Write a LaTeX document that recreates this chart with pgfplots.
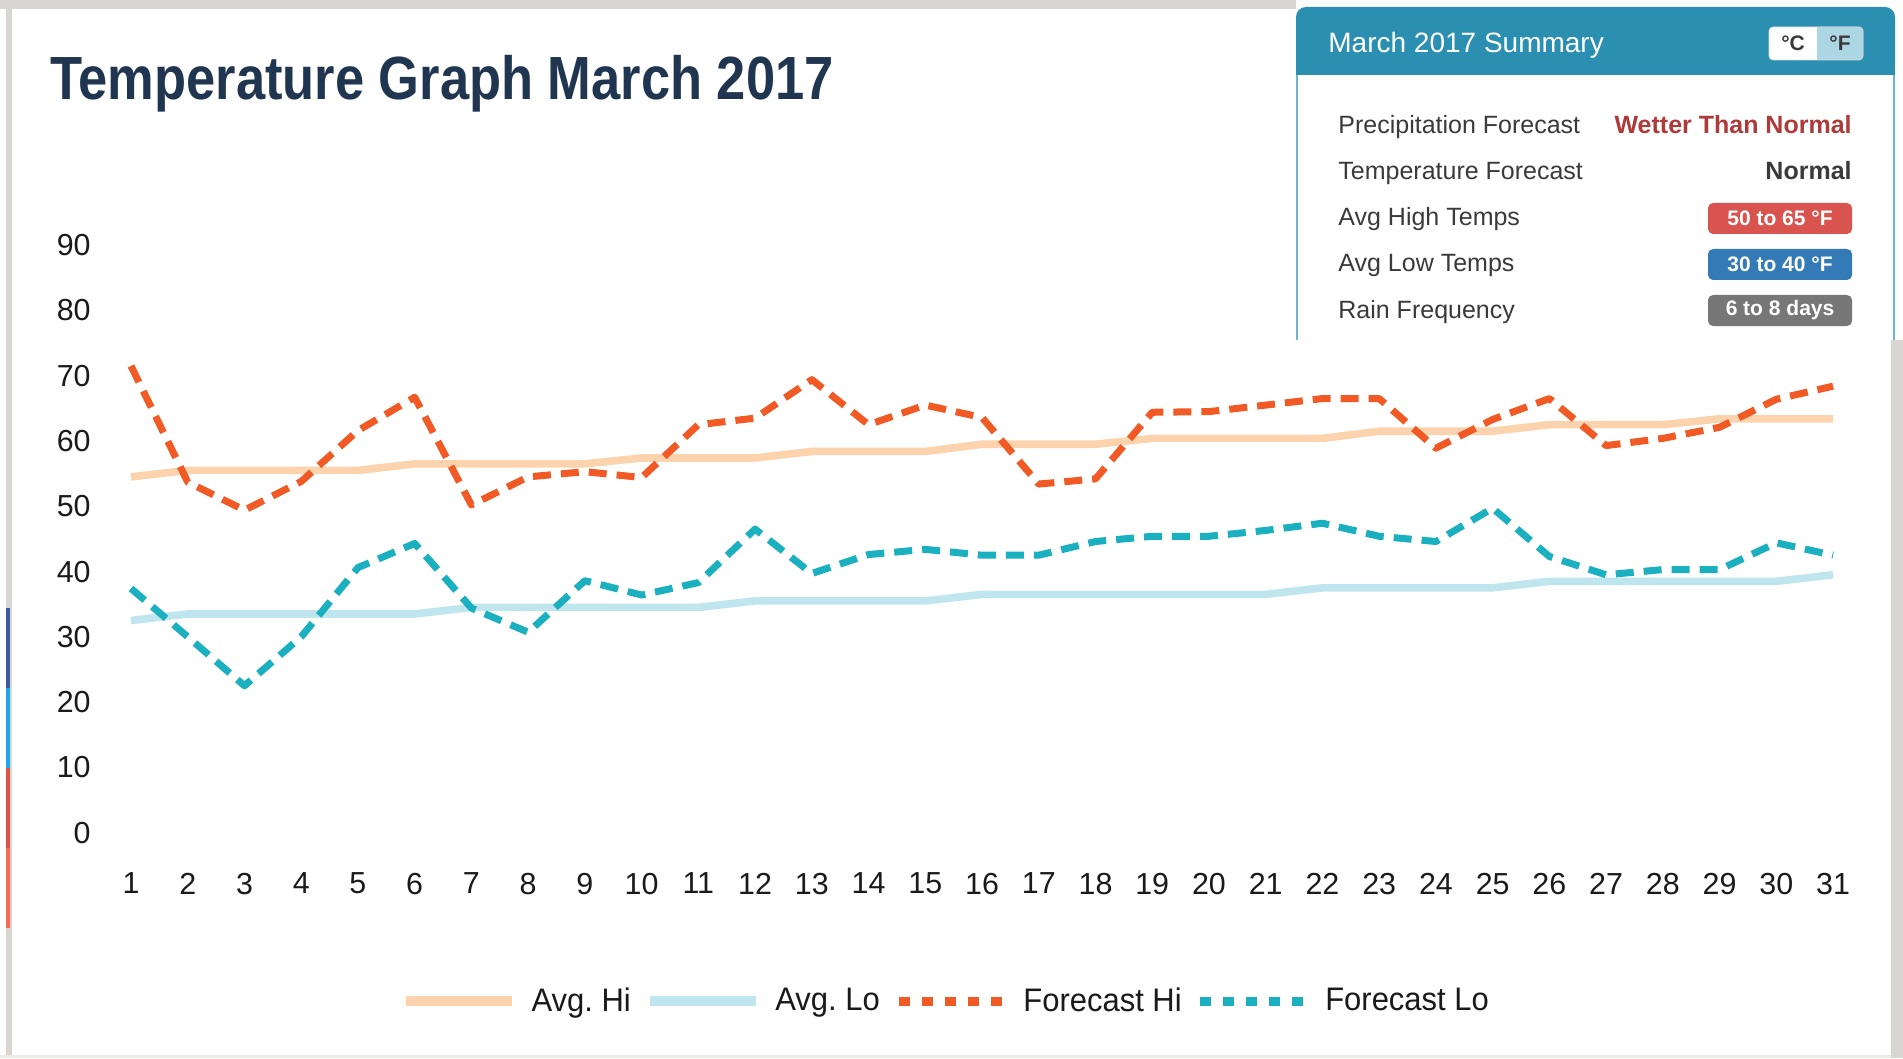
\documentclass[border=0pt]{standalone}
\usepackage{fontspec}
\setmainfont{Liberation Sans}
\newfontfamily\titlefont{Liberation Sans}[FakeStretch=0.86]
\newfontfamily\legfont{Liberation Sans}[FakeStretch=0.95]
\usepackage{pgfplots}
\pgfplotsset{compat=1.18}
\usepackage{pgfplotstable}
\frenchspacing

\definecolor{avghi}{HTML}{FDD3AE}
\definecolor{avglo}{HTML}{BFE6EF}
\definecolor{fchi}{HTML}{F15A24}
\definecolor{fclo}{HTML}{1AB0BF}
\definecolor{framegray}{HTML}{D8D5D3}
\definecolor{titlecol}{HTML}{1F3550}
\definecolor{headteal}{HTML}{2A8FB0}
\definecolor{panelborder}{HTML}{6DB6CF}
\definecolor{togglelb}{HTML}{ADD6E4}
\definecolor{rowtext}{HTML}{3A3A3A}
\definecolor{wetred}{HTML}{AE3A3A}
\definecolor{badgered}{HTML}{D9534F}
\definecolor{badgeblue}{HTML}{337AB7}
\definecolor{badgegray}{HTML}{777777}
\definecolor{stripnavy}{HTML}{3D5A9E}
\definecolor{stripblue}{HTML}{1EA5E8}
\definecolor{stripred}{HTML}{D9534A}
\definecolor{stripsalmon}{HTML}{F96A55}
\definecolor{tickcol}{HTML}{1A1A1A}

\pgfplotstableread{
day ahi  alo  fhi  flo
1   54.5 32.5 71.5 37.4
2   55.5 33.5 53.7 30.0
3   55.5 33.5 49.4 22.5
4   55.5 33.5 53.8 30.0
5   55.5 33.5 61.6 40.6
6   56.5 33.5 66.7 44.3
7   56.5 34.5 50.2 34.4
8   56.5 34.5 54.5 30.7
9   56.5 34.5 55.3 38.6
10  57.4 34.5 54.4 36.4
11  57.4 34.5 62.5 38.3
12  57.4 35.5 63.5 46.5
13  58.4 35.5 69.4 39.7
14  58.4 35.5 62.5 42.6
15  58.4 35.5 65.5 43.4
16  59.5 36.5 63.6 42.5
17  59.5 36.5 53.4 42.5
18  59.5 36.5 54.2 44.6
19  60.4 36.5 64.4 45.4
20  60.4 36.5 64.5 45.4
21  60.4 36.5 65.5 46.3
22  60.4 37.5 66.5 47.4
23  61.5 37.5 66.5 45.4
24  61.5 37.5 58.9 44.6
25  61.5 37.5 63.3 49.7
26  62.5 38.5 66.5 42.3
27  62.5 38.5 59.3 39.5
28  62.5 38.5 60.4 40.3
29  63.4 38.5 62.1 40.3
30  63.4 38.5 66.4 44.4
31  63.4 39.5 68.4 42.5
}\tempdata

\begin{document}
\begin{tikzpicture}[x=0.5bp,y=0.5bp]
\path[use as bounding box] (0,0) rectangle (1903,1058);
\fill[white] (0,0) rectangle (1903,1058);
% frame
\fill[framegray] (0,1049) rectangle (1296,1058);
\fill[framegray] (6,0) rectangle (12,1049);
\fill[framegray] (1891,0) rectangle (1903,718);
\fill[framegray!45] (0,0) rectangle (1891,3);
% colour strip
\fill[stripnavy] (6,370) rectangle (10,450);
\fill[stripblue] (6,290) rectangle (10,370);
\fill[stripred] (6,210) rectangle (10,290);
\fill[stripsalmon] (6,130) rectangle (10,210);

% title
\node[anchor=base west, inner sep=0pt, text=titlecol,
      font=\titlefont\bfseries\fontsize{30.5bp}{34bp}\selectfont] at (50,958.5)
      {Temperature Graph March 2017};

\begin{axis}[
  at={(65.5bp,112.7bp)}, anchor=south west,
  scale only axis, width=851bp, height=293.7bp,
  xmin=1, xmax=31, ymin=0, ymax=90,
  enlargelimits=false, clip=false,
  axis line style={draw=none}, tick style={draw=none},
  major tick length=0pt,
  xtick={1,...,31}, ytick={0,10,...,90},
  /pgf/number format/assume math mode=true,
  every tick label/.append style={text=tickcol, font=\fontsize{15.2bp}{18bp}\selectfont},
  yticklabel style={anchor=east, inner sep=0pt, xshift=-20bp},
  xticklabel style={anchor=north, inner sep=0pt, yshift=-20bp},
  legend columns=4,
  legend style={at={(axis description cs:0.4794,-0.287)}, anchor=center,
     draw=none, fill=none, text=tickcol,
     font=\legfont\fontsize{16.3bp}{19bp}\selectfont,
     /tikz/every odd column/.append style={column sep=5.2bp},
     /tikz/every even column/.append style={column sep=5.1bp}},
  legend image code/.code={\draw[#1] (0bp,0bp) -- (53bp,0bp);},
  line join=round,
]
\addplot[avghi, line width=3.8bp, legend image post style={line width=5bp}]
  table[x=day, y=ahi] {\tempdata};
\addlegendentry{Avg. Hi}
\addplot[avglo, line width=3.8bp, legend image post style={line width=5bp}]
  table[x=day, y=alo] {\tempdata};
\addlegendentry{Avg. Lo}
\addplot[fchi, line width=3.5bp, dash pattern=on 9bp off 5bp,
  legend image post style={line width=4.5bp, dash pattern=on 5.5bp off 6bp}]
  table[x=day, y=fhi] {\tempdata};
\addlegendentry{Forecast Hi}
\addplot[fclo, line width=3.5bp, dash pattern=on 9bp off 5bp,
  legend image post style={line width=4.5bp, dash pattern=on 5.5bp off 6bp}]
  table[x=day, y=flo] {\tempdata};
\addlegendentry{Forecast Lo}
\end{axis}

% summary panel
\fill[white] (1296,718) rectangle (1895,1051);
\fill[headteal, rounded corners=5bp] (1296,983) rectangle (1895,1051);
\fill[headteal] (1296,983) rectangle (1895,1015);
\draw[panelborder, line width=1bp] (1297,718) -- (1297,983);
\draw[panelborder, line width=1bp] (1894,718) -- (1894,983);
\node[anchor=mid west, inner sep=0pt, text=white, font=\fontsize{14bp}{16bp}\selectfont]
  at (1328,1011) {March 2017 Summary};
% toggle
\fill[white, rounded corners=2bp] (1769,998) rectangle (1863,1031);
\fill[togglelb, rounded corners=2bp] (1812,998) rectangle (1863,1031);
\fill[white] (1812,998) rectangle (1817,1031);
\draw[black!15, line width=0.4bp, rounded corners=2bp] (1769,998) rectangle (1863,1031);
\node[text=rowtext, font=\bfseries\fontsize{10.5bp}{12bp}\selectfont] at (1793,1014.5) {°C};
\node[text=rowtext, font=\bfseries\fontsize{10.5bp}{12bp}\selectfont] at (1840,1014.5) {°F};
% rows
\begin{scope}[every node/.style={inner sep=0pt, font=\fontsize{12.5bp}{14bp}\selectfont}]
\node[anchor=base west, text=rowtext] at (1338,924) {Precipitation Forecast};
\node[anchor=base west, text=rowtext] at (1338,878) {Temperature Forecast};
\node[anchor=base west, text=rowtext] at (1338,832) {Avg High Temps};
\node[anchor=base west, text=rowtext] at (1338,786) {Avg Low Temps};
\node[anchor=base west, text=rowtext] at (1338,740) {Rain Frequency};
\node[anchor=base east, text=wetred, font=\bfseries\fontsize{12.5bp}{14bp}\selectfont] at (1852,924) {Wetter Than Normal};
\node[anchor=base east, text=rowtext, font=\bfseries\fontsize{12.5bp}{14bp}\selectfont] at (1852,878) {Normal};
\end{scope}
\fill[badgered, rounded corners=2.5bp] (1708,824) rectangle (1852,855);
\fill[badgeblue, rounded corners=2.5bp] (1708,778) rectangle (1852,809);
\fill[badgegray, rounded corners=2.5bp] (1708,732) rectangle (1852,763);
\begin{scope}[every node/.style={inner sep=0pt, text=white, font=\bfseries\fontsize{10.5bp}{12bp}\selectfont}]
\node at (1780,839.5) {50 to 65 °F};
\node at (1780,793.5) {30 to 40 °F};
\node at (1780,747.5) {6 to 8 days};
\end{scope}
\end{tikzpicture}
\end{document}
